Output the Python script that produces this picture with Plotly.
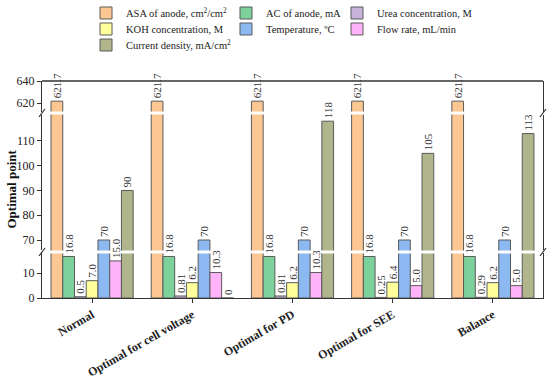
import plotly.graph_objects as go

categories = ["Normal", "Optimal for cell voltage", "Optimal for PD", "Optimal for SEE", "Balance"]
asa_anode = [621.7, 621.7, 621.7, 621.7, 621.7]
ac_anode = [16.8, 16.8, 16.8, 16.8, 16.8]
urea_conc = [0.5, 0.81, 0.81, 0.25, 0.29]
koh_conc = [7.0, 6.2, 6.2, 6.4, 6.2]
temperature = [70, 70, 70, 70, 70]
flow_rate = [15.0, 10.3, 10.3, 5.0, 5.0]
current_density = [90, 0, 118, 105, 113]

series_names = [
    "ASA of anode, cm<sup>2</sup>/cm<sup>2</sup>",
    "AC of anode, mA",
    "Urea concentration, M",
    "KOH concentration, M",
    "Temperature, ºC",
    "Flow rate, mL/min",
    "Current density, mA/cm<sup>2</sup>",
]
series_values = [asa_anode, ac_anode, urea_conc, koh_conc, temperature, flow_rate, current_density]
label_formats = ["{:.1f}", "{:.1f}", "{:g}", "{:.1f}", "{:.0f}", "{:.1f}", "{:.0f}"]
colors = ["#FDC794", "#7DD29B", "#C8B4DA", "#FFFF9C", "#8DB9F3", "#FFB4FA", "#B0B58B"]

# broken y-axis segments: (axis id, range, domain, tick values)
segments = [
    ("y", [0, 18.0], [0, 0.2051], [0, 10]),
    ("y2", [65.76, 120.7], [0.2189, 0.8456], [70, 80, 90, 100, 110]),
    ("y3", [612.3, 640], [0.8594, 1.0], [620, 640]),
]

# legend placement (container coords) for each series
legend_pos = [
    (0.1564, 0.9658), (0.4109, 0.9658), (0.6127, 0.9658),
    (0.1564, 0.9237), (0.4109, 0.9237), (0.6127, 0.9237),
    (0.1564, 0.8816),
]

SERIF = "Liberation Serif"
fig = go.Figure()

for i, (name, vals, fmt, col) in enumerate(zip(series_names, series_values, label_formats, colors)):
    legend_id = "legend" if i == 0 else f"legend{i+1}"
    for s, (yid, rng, dom, tv) in enumerate(segments):
        fig.add_trace(go.Bar(
            x=categories, y=vals, name=name, yaxis=yid, offsetgroup=str(i),
            marker=dict(color=col, line=dict(color="#5a5a5a", width=1)),
            showlegend=(s == 0), legend=legend_id, hoverinfo="skip",
        ))
    for s, (yid, rng, dom, tv) in enumerate(segments):
        texts = [fmt.format(v) if rng[0] <= v <= rng[1] else "" for v in vals]
        fig.add_trace(go.Bar(
            x=categories, y=vals, yaxis=yid, offsetgroup=str(i),
            marker=dict(color="rgba(0,0,0,0)", line=dict(width=0)),
            text=texts, textposition="outside", textangle=-90,
            constraintext="none", cliponaxis=False,
            textfont=dict(family=SERIF, size=11, color="#333333"),
            showlegend=False, hoverinfo="skip",
        ))

axis_common = dict(
    showline=True, linecolor="#333333", linewidth=1.3, mirror=True, automargin=False,
    ticks="outside", ticklen=4, tickcolor="#333333", showgrid=False, zeroline=False,
    tickfont=dict(family=SERIF, size=12, color="#222222"),
)

layout = dict(
    width=550, height=380,
    margin=dict(l=42, r=7, t=81, b=82, autoexpand=False),
    plot_bgcolor="white", paper_bgcolor="white",
    barmode="group", bargap=0.18, bargroupgap=0,
    showlegend=True,
    xaxis=dict(
        anchor="y", showline=True, linecolor="#333333", linewidth=1.3, automargin=False,
        ticks="outside", ticklen=4, tickcolor="#333333", tickangle=-30,
        showgrid=False, zeroline=False,
        tickfont=dict(family=SERIF, size=12, color="#222222", weight="bold"),
    ),
)
for yid, rng, dom, tv in segments:
    key = "yaxis" if yid == "y" else "yaxis" + yid[1:]
    layout[key] = dict(axis_common, range=rng, domain=dom, tickvals=tv, anchor="x")

for i, (lx, ly) in enumerate(legend_pos):
    key = "legend" if i == 0 else f"legend{i+1}"
    layout[key] = dict(
        x=lx, y=ly, xref="container", yref="container",
        xanchor="left", yanchor="middle", orientation="v",
        bgcolor="rgba(0,0,0,0)", borderwidth=0,
        font=dict(family=SERIF, size=10.5, color="#222222"),
    )

fig.update_layout(**layout)

# top frame line
fig.add_shape(type="line", xref="paper", yref="paper", x0=0, x1=1, y0=1, y1=1,
              line=dict(color="#333333", width=1.3))
# axis break marks
for yb in [0.212, 0.8525]:
    for xb in [0, 1]:
        fig.add_shape(type="line", xref="paper", yref="paper",
                      xsizemode="pixel", xanchor=xb, ysizemode="pixel", yanchor=yb,
                      x0=-3, x1=3, y0=-4, y1=4,
                      line=dict(color="#333333", width=1.2))

fig.add_annotation(text="<b>Optimal point</b>", xref="paper", yref="paper",
                   x=0, y=0.5, xanchor="center", yanchor="middle", xshift=-31,
                   textangle=-90, showarrow=False,
                   font=dict(family=SERIF, size=13, color="#111111"))

fig.write_html("out.html", config={"displayModeBar": False},
               post_script="document.body.style.margin='0';")
